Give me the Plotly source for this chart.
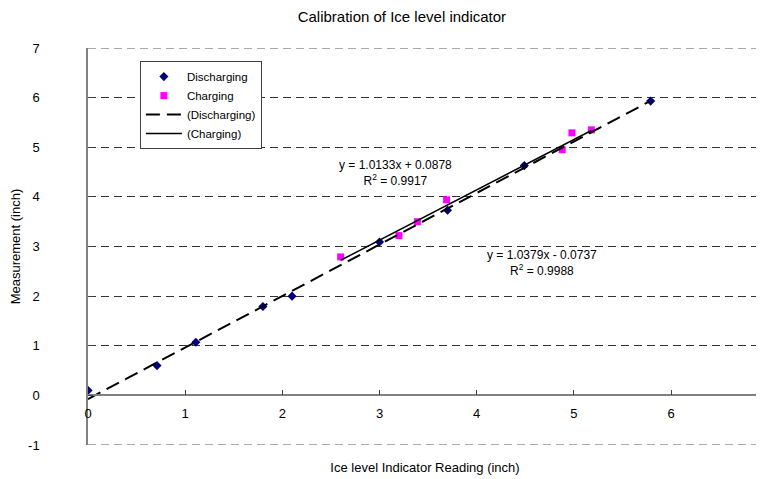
import plotly.graph_objects as go

# Data
dis_x = [0.0, 0.71, 1.11, 1.8, 2.1, 3.0, 3.7, 4.49, 5.79]
dis_y = [0.1, 0.6, 1.07, 1.79, 2.0, 3.09, 3.73, 4.63, 5.93]
chg_x = [2.6, 3.2, 3.39, 3.69, 4.88, 4.98, 5.18]
chg_y = [2.79, 3.22, 3.5, 3.94, 4.95, 5.29, 5.35]

# Linear trendline coefficients (slope, intercept) as shown on the chart
dis_fit = [1.0379, -0.0737]
chg_fit = [1.0133, 0.0878]

x_ticks = [0, 1, 2, 3, 4, 5, 6]
y_ticks = [-1, 0, 1, 2, 3, 4, 5, 6, 7]

FONT = "Liberation Sans, Arial, sans-serif"

def fit_line(xs, coef):
    x0, x1 = min(xs), max(xs)
    return [x0, x1], [coef[0] * x0 + coef[1], coef[0] * x1 + coef[1]]

fig = go.Figure()
fig.add_trace(go.Scatter(x=dis_x, y=dis_y, mode="markers", name="Discharging",
                         marker=dict(symbol="diamond", color="#000080", size=7)))
fig.add_trace(go.Scatter(x=chg_x, y=chg_y, mode="markers", name="Charging",
                         marker=dict(symbol="square", color="#FF00FF", size=7)))
lx, ly = fit_line(dis_x, dis_fit)
fig.add_trace(go.Scatter(x=lx, y=ly, mode="lines", name="(Discharging)",
                         line=dict(color="black", width=2, dash="14px,7px")))
lx, ly = fit_line(chg_x, chg_fit)
fig.add_trace(go.Scatter(x=lx, y=ly, mode="lines", name="(Charging)",
                         line=dict(color="black", width=1.5)))

ann_font = dict(family=FONT, size=12, color="black")
fig.add_annotation(x=3.16, y=4.48, xref="x", yref="y", showarrow=False,
                   text="y = 1.0133x + 0.0878<br>R<sup>2</sup> = 0.9917",
                   font=ann_font, align="center")
fig.add_annotation(x=4.67, y=2.66, xref="x", yref="y", showarrow=False,
                   text="y = 1.0379x - 0.0737<br>R<sup>2</sup> = 0.9988",
                   font=ann_font, align="center")

# top and bottom grid lines (plotly drops gridlines on the plot edges)
for yv in (min(y_ticks), max(y_ticks)):
    fig.add_shape(type="line", xref="x domain", yref="y", x0=0, x1=1, y0=yv, y1=yv,
                  line=dict(color="#555555", width=1, dash="8px,5px"), layer="below")

fig.update_layout(
    width=756, height=471,
    margin=dict(l=80, r=2, t=40, b=34),
    paper_bgcolor="white", plot_bgcolor="white",
    font=dict(family=FONT, size=13, color="black"),
    title=dict(text="Calibration of Ice level indicator", x=0.521, xanchor="center",
               y=0.981, yanchor="middle", font=dict(family=FONT, size=15, color="black")),
    showlegend=True,
    legend=dict(x=0.077, y=0.967, xanchor="left", yanchor="top",
                bgcolor="white", bordercolor="#404040", borderwidth=1,
                font=dict(family=FONT, size=11.5, color="black"),
                tracegroupgap=0, itemwidth=36),
    xaxis=dict(range=[0, 6.936], tickvals=x_ticks, ticktext=[str(v) for v in x_ticks],
               anchor="free", position=0.125,
               showline=True, linecolor="#808080", linewidth=1.5,
               ticks="inside", ticklen=5, tickcolor="#404040",
               showgrid=False, zeroline=False, ticklabelstandoff=6,
               tickfont=dict(family=FONT, size=13, color="black"),
               title=dict(text="Ice level Indicator Reading (inch)", standoff=42,
                          font=dict(family=FONT, size=13, color="black"))),
    yaxis=dict(range=[-1, 7], tickvals=y_ticks, ticktext=[str(v) for v in y_ticks],
               showline=True, linecolor="#808080", linewidth=1.5,
               ticks="inside", ticklen=5, tickcolor="#404040",
               showgrid=True, gridcolor="#333333", gridwidth=1, griddash="8px,5px",
               zeroline=False, ticklabelstandoff=44,
               tickfont=dict(family=FONT, size=13, color="black"),
               title=dict(text="Measurement (inch)", standoff=8,
                          font=dict(family=FONT, size=13, color="black"))),
)

fig.write_html("out.html")
